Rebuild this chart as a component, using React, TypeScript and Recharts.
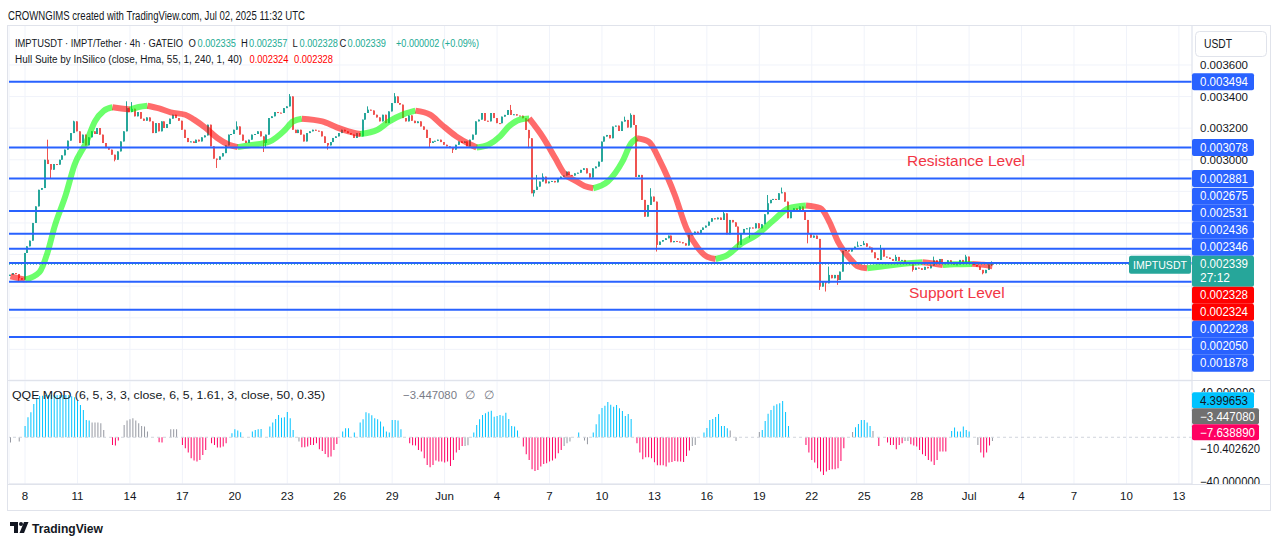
import React from 'react';
import { ComposedChart, Bar, Line, XAxis, YAxis, CartesianGrid, ReferenceLine, Cell } from 'recharts';

// Prices are kept in millionths of USDT (2339 -> 0.002339), one entry per 4h candle
// starting May 7 04:00 UTC.
const FIRST_OPEN = 2265;
const CLOSES = [
  2272, 2283, 2277, 2251, 2241, 2410, 2452, 2488, 2600, 2705, 2810, 2821,
  3000, 2973, 2937, 2973, 2969, 3000, 3028, 3064, 3121, 3169, 3243, 3180,
  3106, 3159, 3091, 3142, 3180, 3163, 3201, 3159, 3106, 3074, 3064, 3032,
  3000, 3053, 3116, 3180, 3327, 3302, 3323, 3275, 3302, 3260, 3247, 3268,
  3243, 3169, 3232, 3180, 3243, 3201, 3226, 3260, 3285, 3264, 3247, 3190,
  3138, 3112, 3116, 3106, 3127, 3116, 3142, 3154, 3222, 3085, 3007, 3000,
  3021, 3042, 3091, 3159, 3163, 3190, 3211, 3159, 3121, 3106, 3127, 3159,
  3163, 3180, 3148, 3106, 3159, 3264, 3275, 3302, 3298, 3296, 3327, 3338,
  3401, 3190, 3169, 3190, 3159, 3116, 3169, 3180, 3190, 3184, 3180, 3148,
  3106, 3091, 3112, 3138, 3148, 3169, 3190, 3180, 3169, 3160, 3138, 3169,
  3148, 3254, 3296, 3317, 3312, 3285, 3268, 3243, 3285, 3232, 3306, 3359,
  3401, 3359, 3349, 3264, 3243, 3281, 3247, 3232, 3243, 3211, 3190, 3138,
  3106, 3116, 3120, 3127, 3112, 3095, 3085, 3074, 3064, 3095, 3116, 3106,
  3116, 3085, 3127, 3159, 3243, 3254, 3296, 3247, 3243, 3296, 3264, 3232,
  3231, 3273, 3284, 3315, 3284, 3288, 3280, 3279, 3263, 3189, 3136, 2788,
  2809, 2830, 2862, 2893, 2851, 2862, 2866, 2857, 2879, 2893, 2900, 2925,
  2904, 2900, 2914, 2918, 2936, 2946, 2914, 2887, 2946, 2957, 2988, 3115,
  3147, 3157, 3136, 3210, 3216, 3182, 3242, 3252, 3204, 3284, 3220, 2891,
  2904, 2746, 2640, 2714, 2767, 2735, 2461, 2482, 2492, 2503, 2520, 2478,
  2486, 2482, 2478, 2471, 2457, 2524, 2528, 2545, 2537, 2556, 2571, 2583,
  2608, 2630, 2623, 2634, 2619, 2661, 2528, 2619, 2604, 2577, 2461, 2535,
  2562, 2566, 2571, 2566, 2598, 2566, 2592, 2655, 2725, 2746, 2752, 2746,
  2788, 2794, 2735, 2630, 2672, 2693, 2682, 2704, 2672, 2619, 2535, 2507,
  2520, 2499, 2197, 2225, 2218, 2271, 2250, 2271, 2239, 2292, 2423, 2429,
  2419, 2436, 2450, 2457, 2460, 2471, 2450, 2444, 2414, 2377, 2366, 2436,
  2387, 2381, 2372, 2360, 2385, 2360, 2366, 2351, 2348, 2339, 2303, 2317,
  2313, 2303, 2322, 2313, 2330, 2364, 2351, 2372, 2351, 2339, 2364, 2351,
  2334, 2338, 2366, 2351, 2387, 2345, 2351, 2334, 2324, 2303, 2282, 2303,
  2337, 2339,
];

// [candle, high, low] for the wicks that stick out past the bodies
const WICKS: [number, number | null, number | null][] = [
  [3, null, 2234], [13, 3127, null], [14, null, 2884], [22, 3247, null], [36, null, 2990],
  [40, 3370, null], [42, 3365, null], [71, null, 2948], [78, 3243, null], [87, null, 3049],
  [88, null, 3074], [96, 3416, null], [109, null, 3064], [123, 3338, null], [132, 3422, null],
  [144, null, 3078], [152, null, 3043], [172, 3347, null], [178, null, 3073], [180, null, 2767],
  [181, 2904, null], [183, 2914, null], [211, 3273, null], [213, 3294, null], [220, 2820, null],
  [222, null, 2419], [245, 2672, null], [250, null, 2429], [254, null, 2503], [260, 2777, null],
  [265, 2824, null], [274, null, 2471], [278, null, 2176], [280, null, 2166], [281, 2324, null],
  [284, null, 2208], [291, 2482, null], [293, 2486, null], [299, 2461, null], [304, 2398, null],
  [310, null, 2292], [317, 2387, null], [328, 2398, null], [334, null, 2275],
];

// last candle: open, high, low, close
const OHLC_NOW = [2335, 2357, 2328, 2339];

// Hull Suite band, one list of [candle, value] per rising / falling run
const HULL_SEGMENTS: [number, number][][] = [
  [[0, 2262], [5, 2241]],
  [[5, 2241], [10, 2290], [13, 2430], [15, 2568], [19, 2779], [22, 2969], [26, 3110], [29, 3243], [32, 3310], [35, 3332]],
  [[35, 3332], [38, 3325], [41, 3318]],
  [[41, 3318], [44, 3334], [47, 3342]],
  [[47, 3342], [51, 3325], [55, 3300], [60, 3285], [63, 3254], [67, 3201], [71, 3138], [75, 3095], [78, 3080]],
  [[78, 3080], [82, 3092], [89, 3116], [94, 3185], [97, 3243], [100, 3260]],
  [[100, 3260], [107, 3243], [112, 3205], [116, 3180], [120, 3163]],
  [[120, 3163], [126, 3190], [130, 3243], [135, 3289], [139, 3311]],
  [[139, 3311], [144, 3285], [148, 3222], [153, 3148], [158, 3095], [160, 3078]],
  [[160, 3078], [164, 3095], [168, 3148], [171, 3210], [175, 3255], [178, 3262]],
  [[178, 3262], [183, 3136], [187, 3009], [190, 2914], [194, 2866], [197, 2834], [200, 2820]],
  [[200, 2820], [205, 2862], [210, 2988], [213, 3104], [215, 3136]],
  [[215, 3136], [219, 3115], [223, 2988], [228, 2777], [232, 2566], [236, 2440], [239, 2387], [242, 2372]],
  [[242, 2372], [246, 2397], [251, 2471], [256, 2524], [262, 2619], [267, 2693], [273, 2710]],
  [[273, 2710], [278, 2693], [281, 2609], [284, 2482], [288, 2377], [291, 2324], [294, 2313]],
  [[294, 2313], [299, 2324], [305, 2339], [313, 2351]],
  [[313, 2351], [316, 2345], [320, 2334]],
  [[320, 2334], [324, 2339], [330, 2341]],
  [[330, 2341], [334, 2335], [337, 2326]],
];

const LEVELS = [3494, 3078, 2881, 2675, 2531, 2436, 2346, 2228, 2050, 1878];
const COUNTDOWN = '27:12';
const HULL_NOW = [2324, 2328];
const PRICE_TICKS = [1800, 2000, 2200, 2400, 2600, 2800, 3000, 3200, 3400, 3600];

// QQE MOD histogram, null where no bar is drawn
const QQE = [
  -4.8, null, null, -3.9, null, 10.2, 18, 22.5, 30, 35.1, 37.2, 37.5,
  38, 38, 38, 38, 38, 38, 38, 38, 38, 37, 36, 33,
  29.1, 24.6, 15.6, 15, 13.2, 13.2, 13.2, 12.6, 6.6, null, null, -6.9,
  -7.5, -3, null, 11.1, 15, 16.2, 17.1, 15, 12.6, 10.2, 9.6, 5.1,
  null, null, null, -4.5, -4.8, null, null, 7.2, 7.2, 7.2, null, -6.9,
  -9.9, -13.8, -18.9, -21, -21.9, -20.4, -15.9, -11.4, null, -5.4, -6.9, -9.3,
  -9.3, -8.4, -5.4, null, 3.6, 7.2, 6, 4.5, null, null, null, 5.1,
  6.6, 7.2, 7.5, null, null, 9.6, 13.2, 16.5, 20.1, 17.7, 18, 22.8,
  17.1, 6.6, null, -3.9, -9, -9, -8.4, -6.9, -6.9, -5.4, -10.8, -12.3,
  -15, -18, -17.4, -11.4, -6, null, 5.1, 8.1, 8.1, null, 4.2, null,
  13.2, 16.2, 22.5, 21.6, 19.8, 17.1, 16.2, 14.1, 9.6, 5.1, 4.2, 15.6,
  15.6, 15, 7.2, null, null, -5.4, -7.2, -7.5, -11.4, -12.9, -18.9, -24.9,
  -27, -24.9, -21, -21.9, -21.9, -22.8, -21.9, -25.8, -20.4, -13.8, -11.4, -7.8,
  -7.8, -7.2, null, 4.2, 11.1, 16.2, 20.1, 21.6, 23.1, 24, 18.6, 19.2,
  20.1, 19.5, 22.2, 16.5, 10.2, 9.6, 6, null, -8.4, -15.3, -20.4, -28.8,
  -30.3, -29.4, -26.4, -24, -23.4, -21.9, -21, -19.2, -14.4, -11.4, -7.8, -5.4,
  -3.9, null, null, 4.2, null, -3, -6.3, null, 4.2, 11.7, 20.7, 26.4,
  28.5, 31.8, 29.4, 27.6, 29.1, 26.1, 23.7, 19.2, 21, 16.5, null, -5.4,
  -13.8, -19.8, -18, -18, -18.9, -22.5, -25.2, -25.2, -25.2, -26.4, -22.8, -22.2,
  -21.3, -21.9, -21.9, -22.2, -16.8, -12, -7.8, -6.9, null, null, 4.2, 8.4,
  15.6, 16.5, 18.3, 21, 10.2, 10.2, 8.1, 6, null, -3.3, null, null,
  null, null, null, null, null, 4.8, 6.6, 14.7, 21.3, 24.6, 28.5, 29.7,
  30.6, 32.7, 22.8, 10.2, null, null, null, null, null, -6.9, -13.8, -20.4,
  -22.8, -27.9, -30.9, -33.9, -30.9, -29.4, -28.8, -28.8, -27.9, -21.3, -9.9, null,
  null, 4.8, 9, 12, 15.6, 15.6, 13.2, 10.2, 5.7, null, -7.8, null,
  null, -4.8, -6.9, -6.9, -10.8, -6.9, -5.4, -3.3, -3.3, -6.3, -7.5, -8.4,
  -11.4, -15.3, -16.8, -20.4, -21.9, -24.9, -20.4, -12.9, -12.9, -12.9, null, 5.7,
  8.7, 5.1, 5.1, 9.6, 6.6, 5.1, null, null, -6.9, -13.8, -18.3, -13.8,
  -7.5, -3.4,
];
// bars drawn in the neutral colour
const QQE_GRAY = [0, 3, 28, 29, 30, 31, 32, 39, 40, 41, 42, 43, 44, 45, 46, 47, 55, 56, 57, 99, 156, 157,
  190, 191, 192, 197, 198, 234, 235, 247, 249, 257, 289, 296, 307, 308, 332, 337];
const QQE_TAGS = [
  { value: 4.399653, text: '4.399653', bg: '#00c3ff', fg: '#131722', w: 62 },
  { value: -3.44708, text: '\u22123.447080', bg: '#707070', fg: '#ffffff', w: 67 },
  { value: -7.63889, text: '\u22127.638890', bg: '#ff0062', fg: '#ffffff', w: 67 },
];
const QQE_SCALE = [40, -10.40262, -40];

// day labels every 3 days, [month, day]
const TICK_DAYS: [number, number][] = [
  [5, 8], [5, 11], [5, 14], [5, 17], [5, 20], [5, 23], [5, 26], [5, 29], [6, 1], [6, 4], [6, 7], [6, 10],
  [6, 13], [6, 16], [6, 19], [6, 22], [6, 25], [6, 28], [7, 1], [7, 4], [7, 7], [7, 10], [7, 13],
];
const MONTHS = ['Jan', 'Feb', 'Mar', 'Apr', 'May', 'Jun', 'Jul', 'Aug', 'Sep', 'Oct', 'Nov', 'Dec'];

const START = Date.UTC(2025, 4, 7, 4);
const BAR_MS = 4 * 3600 * 1000;
const SLOTS = 406;

const INK = '#131722';
const UP = '#26a69a';
const DOWN = '#ef5350';
const TEAL_TEXT = '#22ab94';
const BLUE = '#2962ff';
const GRID = '#f0f3fa';
const BORDER = '#e0e3eb';
const SANS = '"Liberation Sans", Arial, sans-serif';
const SQUEEZE = 0.82;

// pane geometry
const W = 1281;
const AXIS_W = 89;
const LEFT = 9;
const TOP_Y = 25;
const TOP_H = 355;
const P_MIN = 1606;
const P_MAX = 3853;
const Q_Y = 381;
const Q_H = 103;
const X_H = 26;
const Q_MIN = -42.1;
const Q_MAX = 50.7;

const priceToY = (v: number) => TOP_Y + ((P_MAX - v) / (P_MAX - P_MIN)) * TOP_H;
const qqeToY = (v: number) => Q_Y + ((Q_MAX - v) / (Q_MAX - Q_MIN)) * Q_H;
const fmt = (v: number) => (v / 1e6).toFixed(6);

const tickIdx = TICK_DAYS.map(([m, d]) => Math.round((Date.UTC(2025, m - 1, d) - START) / BAR_MS));
const tickLabel: Record<number, string> = {};
TICK_DAYS.forEach(([m, d], k) => { tickLabel[tickIdx[k]] = d === 1 ? MONTHS[m - 1] : String(d); });

const wickAt = new Map(WICKS.map(([i, h, l]) => [i, { h, l }]));
wickAt.set(CLOSES.length - 1, { h: OHLC_NOW[1], l: OHLC_NOW[2] });
const grayBars = new Set(QQE_GRAY);

const rows: Record<string, any>[] = Array.from({ length: SLOTS }, (_, i) => {
  const row: Record<string, any> = { i };
  if (i < CLOSES.length) {
    const o = i === 0 ? FIRST_OPEN : i === CLOSES.length - 1 ? OHLC_NOW[0] : CLOSES[i - 1];
    const c = CLOSES[i];
    const w = wickAt.get(i);
    const h = Math.max(o, c, w?.h ?? -Infinity);
    const l = Math.min(o, c, w?.l ?? Infinity);
    Object.assign(row, { o, c, h, l, range: [l, h], q: QQE[i] });
  }
  return row;
});
HULL_SEGMENTS.forEach((seg, k) => seg.forEach(([i, v]) => { rows[i][`h${k}`] = v; }));

const lastPrice = CLOSES[CLOSES.length - 1];
const prevClose = CLOSES[CLOSES.length - 2];
const change = lastPrice - prevClose;

function Candle(props: any) {
  const { x, y, width, height, payload } = props;
  if (!payload || payload.o == null) return null;
  const { o, c, h, l } = payload;
  const top = Math.min(y, y + height);
  const span = Math.abs(height);
  const toPx = (v: number) => (h === l ? top : top + ((h - v) / (h - l)) * span);
  const color = c >= o ? UP : DOWN;
  const mid = Math.floor(x + width / 2);
  const b1 = toPx(Math.max(o, c));
  const b2 = toPx(Math.min(o, c));
  return (
    <g>
      <line x1={mid - 0.5} x2={mid - 0.5} y1={top} y2={top + span} stroke={color} strokeWidth={1} />
      <rect x={mid - 1} y={b1} width={2} height={Math.max(1, b2 - b1)} fill={color} />
    </g>
  );
}

type Tag = { value: number; h: number; [k: string]: any };

// Right-scale tags that would overlap are packed into one block, placed where
// the members move least (median of their offsets).
function stackTags(tags: Tag[], toY: (v: number) => number) {
  const items = tags.map((t) => ({ ...t, ny: toY(t.value) })).sort((a, b) => a.ny - b.ny);
  let groups = items.map((it) => ({ items: [it], top: it.ny - 8.5 }));
  let merged = true;
  while (merged) {
    merged = false;
    for (let k = 1; k < groups.length; k++) {
      const prev = groups[k - 1];
      const prevH = prev.items.reduce((s, it) => s + it.h, 0);
      if (groups[k].top < prev.top + prevH) {
        const all = [...prev.items, ...groups[k].items];
        let off = 0;
        const diffs = all.map((it) => { const d = it.ny - 8.5 - off; off += it.h; return d; }).sort((a, b) => a - b);
        groups.splice(k - 1, 2, { items: all, top: diffs[Math.floor(diffs.length / 2)] });
        merged = true;
        break;
      }
    }
  }
  const out: any[] = [];
  groups.forEach((g) => { let y = g.top; g.items.forEach((it) => { out.push({ ...it, top: y }); y += it.h; }); });
  return out;
}

const priceTags = stackTags([
  ...LEVELS.map((v) => ({ value: v, h: 17, text: fmt(v), bg: BLUE })),
  { value: lastPrice, h: 31, text: fmt(lastPrice), sub: COUNTDOWN, bg: UP },
  ...HULL_NOW.map((v) => ({ value: v, h: 17, text: fmt(v), bg: '#ff0000' })),
], priceToY);
const lastTag = priceTags.find((t) => t.value === lastPrice);

// scale labels sitting under a tag are hidden, as the tag covers them
const hiddenByTag = (v: number) => {
  const y = priceToY(v);
  return priceTags.some((t) => y > t.top && y < t.top + t.h);
};

const qqeTags = (() => {
  const placed = stackTags(QQE_TAGS.map((t) => ({ ...t, h: 16 })), qqeToY);
  const limit = qqeToY(QQE_SCALE[1]) - 8.5;
  const bottom = Math.max(...placed.map((p) => p.top + p.h));
  const shift = Math.min(0, limit - bottom);
  return placed.map((p) => ({ ...p, top: p.top + shift }));
})();
const qqeTagTop = Math.min(...qqeTags.map((t) => t.top));

const T = ({ x, y, w, fill = INK, size = 12, children, weight }: any) => (
  <text x={x} y={y} fontSize={size} fill={fill} fontFamily={SANS} fontWeight={weight}
    textLength={w} lengthAdjust={w ? 'spacingAndGlyphs' : undefined}>{children}</text>
);

// legend text: a regular face squeezed horizontally
const L = ({ x, y, w, fill = INK, size = 11.5, children }: any) => (
  <text transform={`translate(${x} ${y}) scale(${SQUEEZE} 1)`} fontSize={size} fill={fill} fontFamily={SANS}
    textLength={w ? w / SQUEEZE : undefined} lengthAdjust={w ? 'spacingAndGlyphs' : undefined}>{children}</text>
);

export default function App() {
  return (
    <div style={{ position: 'absolute', left: 0, top: 0, width: W, height: 546, background: '#ffffff', overflow: 'hidden' }}>
      <div style={{ position: 'absolute', left: 0, top: TOP_Y }}>
        <ComposedChart width={W} height={TOP_H} data={rows} margin={{ top: 0, right: 0, bottom: 0, left: LEFT }} barCategoryGap={0}>
          <CartesianGrid stroke={GRID} />
          <XAxis dataKey="i" type="category" hide ticks={tickIdx} interval={0} />
          <YAxis orientation="right" width={AXIS_W} domain={[P_MIN, P_MAX]} allowDataOverflow ticks={PRICE_TICKS}
            tickFormatter={(v: number) => (hiddenByTag(v) ? '' : fmt(v))} tickLine={false} axisLine={{ stroke: BORDER }}
            tick={{ fontSize: 11.5, fill: INK, fontFamily: SANS }} />
          <Bar dataKey="range" isAnimationActive={false} shape={(p: any) => <Candle {...p} />} />
          {HULL_SEGMENTS.map((seg, k) => (
            <Line key={k} dataKey={`h${k}`} type="monotone" connectNulls dot={false} activeDot={false}
              stroke={seg[seg.length - 1][1] >= seg[0][1] ? '#00ff00' : '#ff0000'}
              strokeOpacity={0.58} strokeWidth={6} isAnimationActive={false} />
          ))}
          {LEVELS.map((v) => (
            <ReferenceLine key={v} y={v} stroke={BLUE} strokeWidth={2} />
          ))}
          <ReferenceLine y={lastPrice} stroke={UP} strokeWidth={1} strokeDasharray="1 2" />
        </ComposedChart>
      </div>

      <div style={{ position: 'absolute', left: 0, top: Q_Y }}>
        <ComposedChart width={W} height={Q_H + X_H} data={rows} margin={{ top: 0, right: 0, bottom: 0, left: LEFT }} barCategoryGap={0}>
          <CartesianGrid stroke={GRID} />
          <XAxis dataKey="i" type="category" ticks={tickIdx} interval={0} height={X_H}
            tickFormatter={(v: number) => tickLabel[v] ?? ''} tickLine={false} axisLine={{ stroke: BORDER }}
            tick={{ fontSize: 11.5, fill: INK, fontFamily: SANS }} />
          <YAxis orientation="right" width={AXIS_W} domain={[Q_MIN, Q_MAX]} allowDataOverflow ticks={[-40, 40]}
            tick={false} tickLine={false} axisLine={{ stroke: BORDER }} />
          <ReferenceLine y={0} stroke="#d1d4dc" strokeDasharray="3 3" />
          <Bar dataKey="q" barSize={1} isAnimationActive={false}>
            {rows.map((r) => (
              <Cell key={r.i} fill={grayBars.has(r.i) ? '#9598a1' : (r.q ?? 0) >= 0 ? '#00c3ff' : '#ff0062'} />
            ))}
          </Bar>
        </ComposedChart>
      </div>

      <svg width={W} height={546} style={{ position: 'absolute', left: 0, top: 0, pointerEvents: 'none' }}>
        <defs>
          <clipPath id="qqe-scale"><rect x={1192} y={Q_Y} width={AXIS_W} height={Q_H} /></clipPath>
          {/* the top scale value only peeks out above the first tag */}
          <clipPath id="qqe-top"><rect x={1192} y={Q_Y} width={AXIS_W} height={qqeTagTop - Q_Y} /></clipPath>
        </defs>
        <L x={8} y={19.5} w={297} size={12.5}>CROWNGIMS created with TradingView.com, Jul 02, 2025 11:32 UTC</L>

        {/* frame and pane separators */}
        <rect x={7.5} y={25.5} width={1263} height={485} fill="none" stroke={BORDER} />
        <line x1={8} x2={1270} y1={380.5} y2={380.5} stroke={BORDER} />
        <line x1={8} x2={1270} y1={484.5} y2={484.5} stroke={BORDER} />

        {/* legend */}
        <L x={15} y={46.5} w={168}>IMPTUSDT · IMPT/Tether · 4h · GATEIO</L>
        <L x={188.5} y={46.5}>O</L>
        <L x={197.5} y={46.5} w={38.5} fill={TEAL_TEXT}>{fmt(OHLC_NOW[0])}</L>
        <L x={241} y={46.5}>H</L>
        <L x={249} y={46.5} w={38.5} fill={TEAL_TEXT}>{fmt(OHLC_NOW[1])}</L>
        <L x={292.5} y={46.5}>L</L>
        <L x={299.5} y={46.5} w={38.5} fill={TEAL_TEXT}>{fmt(OHLC_NOW[2])}</L>
        <L x={339.5} y={46.5}>C</L>
        <L x={347.5} y={46.5} w={38.5} fill={TEAL_TEXT}>{fmt(OHLC_NOW[3])}</L>
        <L x={396} y={46.5} w={83} fill={TEAL_TEXT}>
          {`+${fmt(change)} (+${((change / prevClose) * 100).toFixed(2)}%)`}
        </L>
        <L x={15} y={63} w={227}>Hull Suite by InSilico (close, Hma, 55, 1, 240, 1, 40)</L>
        <L x={249.5} y={63} w={39} fill="#ff0000">{fmt(HULL_NOW[0])}</L>
        <L x={294} y={63} w={39} fill="#ff0000">{fmt(HULL_NOW[1])}</L>

        <text x={907} y={166} fontSize={15.5} fill="#f23645" fontFamily={SANS}>Resistance Level</text>
        <text x={909} y={297.5} fontSize={15.5} fill="#f23645" fontFamily={SANS}>Support Level</text>

        {/* price scale */}
        <rect x={1195.5} y={31.5} width={71} height={25} rx={4} fill="#ffffff" stroke={BORDER} />
        <T x={1204} y={48} w={28}>USDT</T>
        {priceTags.map((t) => (
          <g key={t.value}>
            <rect x={1192} y={t.top} width={62} height={t.h} rx={2} fill={t.bg} />
            <T x={1200} y={t.top + 12.8} w={48} fill="#ffffff">{t.text}</T>
            {t.sub && <T x={1200} y={t.top + 26.5} w={30} fill="#ffffff">{t.sub}</T>}
          </g>
        ))}
        {lastTag && (
          <g>
            <rect x={1129} y={lastTag.top} width={62} height={18} rx={2} fill={UP} />
            <T x={1133} y={lastTag.top + 13} w={54} size={11.5} fill="#ffffff">IMPTUSDT</T>
          </g>
        )}

        {/* QQE pane */}
        <L x={12} y={399} w={313}>QQE MOD (6, 5, 3, 3, close, 6, 5, 1.61, 3, close, 50, 0.35)</L>
        <L x={403} y={399} w={54} fill="#787b86">{'\u22123.447080'}</L>
        <text x={465} y={399} fontSize={12} fill="#787b86" fontFamily={SANS}>∅</text>
        <text x={484} y={399} fontSize={12} fill="#787b86" fontFamily={SANS}>∅</text>
        {QQE_SCALE.map((v) => (
          <g key={v} clipPath={v > 0 ? 'url(#qqe-top)' : 'url(#qqe-scale)'}>
            <T x={1200} y={qqeToY(v) + 4.2} w={v > 0 ? 55 : 60}>
              {(v < 0 ? '\u2212' : '') + Math.abs(v).toFixed(6)}
            </T>
          </g>
        ))}
        {qqeTags.map((t) => (
          <g key={t.text}>
            <rect x={1192} y={t.top} width={t.w} height={t.h} rx={2} fill={t.bg} />
            <T x={1200} y={t.top + 12.3} w={t.w === 62 ? 48 : 55} fill={t.fg}>{t.text}</T>
          </g>
        ))}

        {/* logo */}
        <path d="M10 522h8v11h-4v-7h-4z" fill={INK} />
        <circle cx={21} cy={524} r={2} fill={INK} />
        <path d="M24 522h4.5l-4.5 11h-4.5z" fill={INK} />
        <T x={32} y={533} w={71} size={13} weight="bold">TradingView</T>
      </svg>
    </div>
  );
}
